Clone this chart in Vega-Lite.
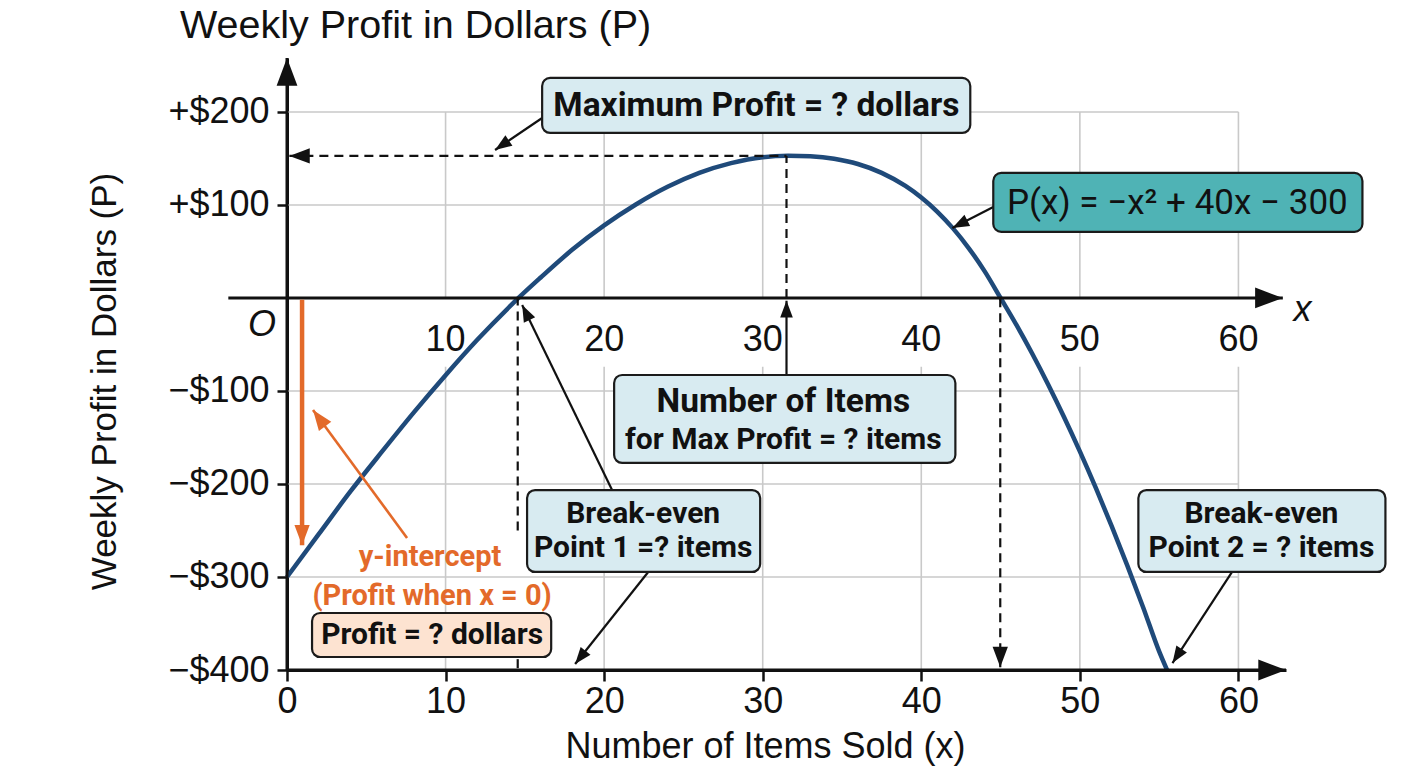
{
  "$schema": "https://vega.github.io/schema/vega-lite/v6.json",
  "width": 999,
  "height": 612,
  "autosize": {"type": "none"},
  "padding": {"left": 287, "top": 58, "right": 122, "bottom": 98},
  "background": "white",
  "config": {"view": {"stroke": null}, "font": "Liberation Sans"},
  "title": {
    "text": "Weekly Profit in Dollars (P)",
    "anchor": "start",
    "frame": "group",
    "dx": -107,
    "dy": 43,
    "offset": 22,
    "baseline": "alphabetic",
    "fontSize": 39.5,
    "font": "Liberation Sans",
    "fontWeight": "normal",
    "color": "#111111"
  },
  "datasets": {
    "curve": [
      {"x": 0, "y": -300}, {"x": 2, "y": -254}, {"x": 4, "y": -208}, {"x": 6, "y": -165},
      {"x": 8, "y": -123}, {"x": 10, "y": -83}, {"x": 12, "y": -45}, {"x": 14, "y": -10},
      {"x": 14.6, "y": 0}, {"x": 16, "y": 22}, {"x": 18, "y": 52}, {"x": 20, "y": 78},
      {"x": 22, "y": 100.5}, {"x": 24, "y": 119.5}, {"x": 26, "y": 134.5}, {"x": 28, "y": 145},
      {"x": 30, "y": 151.4}, {"x": 31.6, "y": 153}, {"x": 33, "y": 152.3}, {"x": 34.5, "y": 149.6},
      {"x": 36, "y": 144}, {"x": 37.5, "y": 134.5}, {"x": 39, "y": 120.4}, {"x": 40, "y": 108},
      {"x": 41, "y": 92.9}, {"x": 42, "y": 74.8}, {"x": 43, "y": 53.4}, {"x": 44, "y": 28.6},
      {"x": 45, "y": 0}, {"x": 46, "y": -29}, {"x": 47, "y": -60}, {"x": 48, "y": -93},
      {"x": 49, "y": -128}, {"x": 50, "y": -165}, {"x": 51, "y": -204}, {"x": 52, "y": -245},
      {"x": 53, "y": -288}, {"x": 54, "y": -333}, {"x": 55, "y": -380}, {"x": 55.5, "y": -400}
    ],
    "grid": [
      {"x": 10, "y": 200, "x2": 10, "y2": 0}, {"x": 20, "y": 200, "x2": 20, "y2": 0},
      {"x": 30, "y": 200, "x2": 30, "y2": 0}, {"x": 40, "y": 200, "x2": 40, "y2": 0},
      {"x": 50, "y": 200, "x2": 50, "y2": 0}, {"x": 60, "y": 200, "x2": 60, "y2": 0},
      {"x": 10, "y": -74, "x2": 10, "y2": -400}, {"x": 20, "y": -74, "x2": 20, "y2": -400},
      {"x": 30, "y": -74, "x2": 30, "y2": -400}, {"x": 40, "y": -74, "x2": 40, "y2": -400},
      {"x": 50, "y": -74, "x2": 50, "y2": -400}, {"x": 60, "y": -74, "x2": 60, "y2": -400},
      {"x": 0, "y": 200, "x2": 60, "y2": 200}, {"x": 0, "y": 100, "x2": 60, "y2": 100},
      {"x": 0, "y": -100, "x2": 60, "y2": -100}, {"x": 0, "y": -200, "x2": 60, "y2": -200},
      {"x": 0, "y": -300, "x2": 60, "y2": -300}
    ],
    "arrows": [
      {"kind": "axis", "x": 0, "y": 258, "fx": 0, "fy": -400, "head": true},
      {"kind": "axis", "x": 63, "y": -400, "fx": 0, "fy": -400, "head": true},
      {"kind": "axis", "x": 62.8, "y": 0, "fx": -3.7, "fy": 0, "head": true},
      {"kind": "dashed", "x": 0.15, "y": 152.7, "fx": 31.5, "fy": 152.7, "head": true},
      {"kind": "dashed", "x": 31.5, "y": 0, "fx": 31.5, "fy": 152.7, "head": false},
      {"kind": "dashed", "x": 14.55, "y": -250, "fx": 14.55, "fy": 0, "head": false},
      {"kind": "dashed", "x": 14.55, "y": -398, "fx": 14.55, "fy": -384, "head": false},
      {"kind": "dashed", "x": 44.98, "y": -397, "fx": 44.98, "fy": 0, "head": true},
      {"kind": "pointer", "x": 13.12, "y": 159.1, "fx": 16.09, "fy": 193.5, "head": true},
      {"kind": "pointer", "x": 31.5, "y": -3, "fx": 31.5, "fy": -82.8, "head": true},
      {"kind": "pointer", "x": 41.96, "y": 75.3, "fx": 44.54, "fy": 97.8, "head": true},
      {"kind": "pointer", "x": 14.83, "y": -7.5, "fx": 20.5, "fy": -206.5, "head": true},
      {"kind": "pointer", "x": 18.17, "y": -393.5, "fx": 22.78, "fy": -294.6, "head": true},
      {"kind": "pointer", "x": 55.84, "y": -392.5, "fx": 59.6, "fy": -294.6, "head": true},
      {"kind": "orangeThick", "x": 0.95, "y": -266, "fx": 0.95, "fy": -2, "head": true},
      {"kind": "orangeThin", "x": 1.64, "y": -120.4, "fx": 7.57, "fy": -258, "head": true}
    ],
    "midTicks": [{"x": 10}, {"x": 20}, {"x": 30}, {"x": 40}, {"x": 50}, {"x": 60}],
    "midLabels": [
      {"x": 10, "y": -45, "label": "10"}, {"x": 20, "y": -45, "label": "20"},
      {"x": 30, "y": -45, "label": "30"}, {"x": 40, "y": -45, "label": "40"},
      {"x": 50, "y": -45, "label": "50"}, {"x": 60, "y": -45, "label": "60"}
    ],
    "axisLetters": [
      {"x": -1.58, "y": -29, "label": "O"},
      {"x": 64.04, "y": -13, "label": "x"}
    ],
    "boxes": [
      {"x": 16.09, "x2": 43.09, "y": 177.4, "y2": 236.6, "kind": "info"},
      {"x": 44.54, "x2": 67.82, "y": 71.0, "y2": 134.4, "kind": "formula"},
      {"x": 20.63, "x2": 42.15, "y": -177.4, "y2": -82.8, "kind": "info"},
      {"x": 15.14, "x2": 29.84, "y": -294.6, "y2": -206.5, "kind": "info"},
      {"x": 53.69, "x2": 69.27, "y": -294.6, "y2": -206.5, "kind": "info"},
      {"x": 1.58, "x2": 16.66, "y": -386, "y2": -338.7, "kind": "answer"}
    ],
    "boxText": [
      {"x": 29.6, "y": 206.5, "text": "Maximum Profit = ? dollars", "role": "head"},
      {"x": 31.3, "y": -111.8, "text": "Number of Items", "role": "head"},
      {"x": 31.3, "y": -152.7, "text": "for Max Profit = ? items", "role": "body"},
      {"x": 22.46, "y": -232.3, "text": "Break-even", "role": "body"},
      {"x": 22.46, "y": -268.8, "text": "Point 1 =? items", "role": "body"},
      {"x": 61.45, "y": -232.3, "text": "Break-even", "role": "body"},
      {"x": 61.45, "y": -268.8, "text": "Point 2 = ? items", "role": "body"},
      {"x": 9.15, "y": -362.4, "text": "Profit = ? dollars", "role": "body"}
    ],
    "formula": [{"x": 56.15, "y": 102, "text": "P(x) = −x² + 40x − 300"}],
    "orangeText": [
      {"x": 9.02, "y": -278.5, "text": "y-intercept"},
      {"x": 9.15, "y": -320.4, "text": "(Profit when x = 0)"}
    ]
  },
  "encoding": {
    "x": {
      "field": "x",
      "type": "quantitative",
      "scale": {"domain": [0, 63], "nice": false, "zero": false},
      "axis": {
        "values": [0, 10, 20, 30, 40, 50, 60],
        "grid": false,
        "title": "Number of Items Sold (x)",
        "titleFont": "Liberation Sans",
        "titleFontSize": 36,
        "titleFontWeight": "normal",
        "titleColor": "#111111",
        "titleX": 478,
        "titleY": 87,
        "titleBaseline": "alphabetic",
        "labelFont": "Liberation Sans",
        "labelFontSize": 36,
        "labelColor": "#111111",
        "labelPadding": 3,
        "labelFlush": false,
        "labelOverlap": false,
        "tickSize": 11,
        "tickWidth": 2.5,
        "tickColor": "#111111",
        "domainColor": "#111111",
        "domainWidth": 3
      }
    },
    "y": {
      "field": "y",
      "type": "quantitative",
      "scale": {"domain": [-400, 258], "nice": false, "zero": false},
      "axis": {
        "values": [-400, -300, -200, -100, 100, 200],
        "grid": false,
        "labelExpr": "datum.value > 0 ? '+$' + datum.value : (datum.value < 0 ? '−$' + abs(datum.value) : '')",
        "title": "Weekly Profit in Dollars (P)",
        "titleFont": "Liberation Sans",
        "titleFontSize": 35,
        "titleFontWeight": "normal",
        "titleColor": "#111111",
        "titleAngle": -90,
        "titleX": -183,
        "titleY": 323,
        "titleBaseline": "middle",
        "titleAlign": "center",
        "labelFont": "Liberation Sans",
        "labelFontSize": 36,
        "labelColor": "#111111",
        "labelPadding": 8,
        "labelOverlap": false,
        "tickSize": 10,
        "tickWidth": 2.5,
        "tickColor": "#111111",
        "domainColor": "#111111",
        "domainWidth": 3
      }
    }
  },
  "layer": [
    {
      "data": {"name": "grid"},
      "mark": {"type": "rule", "color": "#c9c9c9", "strokeWidth": 1.6},
      "encoding": {"x2": {"field": "x2"}, "y2": {"field": "y2"}}
    },
    {
      "data": {"name": "curve"},
      "mark": {"type": "line", "color": "#1f4a7a", "strokeWidth": 4.5, "interpolate": "monotone"},
      "encoding": {"order": {"field": "x", "type": "quantitative"}}
    },
    {
      "data": {"name": "midTicks"},
      "mark": {"type": "rule", "color": "#111111", "strokeWidth": 2.5},
      "encoding": {"y": {"datum": 0}, "y2": {"datum": -12}}
    },
    {
      "data": {"name": "arrows"},
      "transform": [{"filter": "datum.kind === 'axis'"}],
      "mark": {"type": "rule", "color": "#111111", "strokeWidth": 3},
      "encoding": {"x2": {"field": "fx"}, "y2": {"field": "fy"}}
    },
    {
      "data": {"name": "arrows"},
      "transform": [{"filter": "datum.kind === 'dashed'"}],
      "mark": {"type": "rule", "color": "#111111", "strokeWidth": 2.2, "strokeDash": [9, 6]},
      "encoding": {"x2": {"field": "fx"}, "y2": {"field": "fy"}}
    },
    {
      "data": {"name": "arrows"},
      "transform": [{"filter": "datum.kind === 'pointer'"}],
      "mark": {"type": "rule", "color": "#111111", "strokeWidth": 2.2},
      "encoding": {"x2": {"field": "fx"}, "y2": {"field": "fy"}}
    },
    {
      "data": {"name": "arrows"},
      "transform": [{"filter": "datum.kind === 'orangeThick'"}],
      "mark": {"type": "rule", "color": "#e36a2a", "strokeWidth": 4.5},
      "encoding": {"x2": {"field": "fx"}, "y2": {"field": "fy"}}
    },
    {
      "data": {"name": "arrows"},
      "transform": [{"filter": "datum.kind === 'orangeThin'"}],
      "mark": {"type": "rule", "color": "#e36a2a", "strokeWidth": 2.6},
      "encoding": {"x2": {"field": "fx"}, "y2": {"field": "fy"}}
    },
    {
      "data": {"name": "arrows"},
      "transform": [
        {"filter": "datum.head && datum.kind === 'axis'"},
        {"calculate": "atan2((datum.x - datum.fx) * 15.857, (datum.y - datum.fy) * 0.9301) * 180 / PI", "as": "ang"}
      ],
      "mark": {"type": "point", "shape": "M0,0L-0.6,1.6L0.6,1.6Z", "filled": true, "opacity": 1, "color": "#111111", "size": 1200, "strokeWidth": 0},
      "encoding": {"angle": {"field": "ang", "type": "quantitative", "scale": null}}
    },
    {
      "data": {"name": "arrows"},
      "transform": [
        {"filter": "datum.head && datum.kind === 'dashed'"},
        {"calculate": "atan2((datum.x - datum.fx) * 15.857, (datum.y - datum.fy) * 0.9301) * 180 / PI", "as": "ang"}
      ],
      "mark": {"type": "point", "shape": "M0,0L-0.6,1.6L0.6,1.6Z", "filled": true, "opacity": 1, "color": "#111111", "size": 650, "strokeWidth": 0},
      "encoding": {"angle": {"field": "ang", "type": "quantitative", "scale": null}}
    },
    {
      "data": {"name": "arrows"},
      "transform": [
        {"filter": "datum.head && datum.kind === 'pointer'"},
        {"calculate": "atan2((datum.x - datum.fx) * 15.857, (datum.y - datum.fy) * 0.9301) * 180 / PI", "as": "ang"}
      ],
      "mark": {"type": "point", "shape": "M0,0L-0.6,1.6L0.6,1.6Z", "filled": true, "opacity": 1, "color": "#111111", "size": 440, "strokeWidth": 0},
      "encoding": {"angle": {"field": "ang", "type": "quantitative", "scale": null}}
    },
    {
      "data": {"name": "arrows"},
      "transform": [
        {"filter": "datum.head && (datum.kind === 'orangeThick' || datum.kind === 'orangeThin')"},
        {"calculate": "atan2((datum.x - datum.fx) * 15.857, (datum.y - datum.fy) * 0.9301) * 180 / PI", "as": "ang"}
      ],
      "mark": {"type": "point", "shape": "M0,0L-0.6,1.6L0.6,1.6Z", "filled": true, "opacity": 1, "color": "#e36a2a", "size": 650, "strokeWidth": 0},
      "encoding": {"angle": {"field": "ang", "type": "quantitative", "scale": null}}
    },
    {
      "data": {"name": "boxes"},
      "mark": {"type": "rect", "cornerRadius": 8, "stroke": "#1b1b1b", "strokeWidth": 2.2},
      "encoding": {
        "x2": {"field": "x2"},
        "y2": {"field": "y2"},
        "fill": {"field": "kind", "type": "nominal", "scale": {"domain": ["info", "formula", "answer"], "range": ["#d8ebf1", "#4fb3b5", "#fde3d1"]}, "legend": null}
      }
    },
    {
      "data": {"name": "boxText"},
      "transform": [{"filter": "datum.role === 'head'"}],
      "mark": {"type": "text", "font": "Roboto", "fontWeight": "bold", "fontSize": 33.5, "color": "#111111", "baseline": "middle", "align": "center"},
      "encoding": {"text": {"field": "text"}}
    },
    {
      "data": {"name": "boxText"},
      "transform": [{"filter": "datum.role === 'body'"}],
      "mark": {"type": "text", "font": "Roboto", "fontWeight": "bold", "fontSize": 30, "color": "#111111", "baseline": "middle", "align": "center"},
      "encoding": {"text": {"field": "text"}}
    },
    {
      "data": {"name": "formula"},
      "mark": {"type": "text", "font": "Roboto", "fontSize": 35, "color": "#111111", "baseline": "middle", "align": "center"},
      "encoding": {"text": {"field": "text"}}
    },
    {
      "data": {"name": "orangeText"},
      "mark": {"type": "text", "font": "Roboto", "fontWeight": "bold", "fontSize": 29, "color": "#e36a2a", "baseline": "middle", "align": "center"},
      "encoding": {"text": {"field": "text"}}
    },
    {
      "data": {"name": "midLabels"},
      "mark": {"type": "text", "font": "Liberation Sans", "fontSize": 36, "color": "#111111", "baseline": "middle", "align": "center"},
      "encoding": {"text": {"field": "label"}}
    },
    {
      "data": {"name": "axisLetters"},
      "mark": {"type": "text", "font": "Liberation Sans", "fontStyle": "italic", "fontSize": 36, "color": "#111111", "baseline": "middle", "align": "center"},
      "encoding": {"text": {"field": "label"}}
    }
  ]
}
